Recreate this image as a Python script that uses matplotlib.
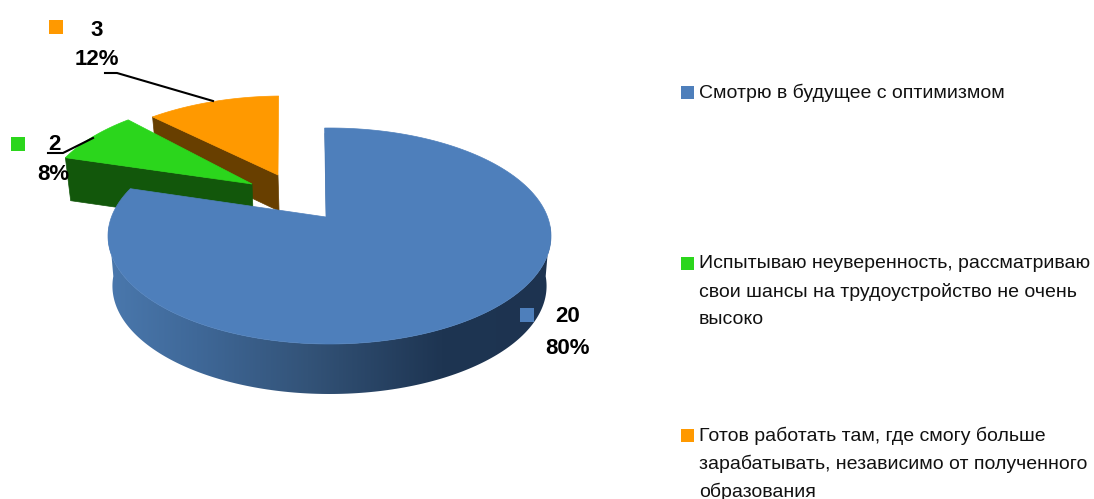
import numpy as np
import matplotlib
matplotlib.use('Agg')
import matplotlib.pyplot as plt
from matplotlib.colors import LinearSegmentedColormap
from matplotlib.patches import Polygon, Rectangle

plt.rcParams['font.family'] = ['Liberation Sans Narrow', 'Liberation Sans', 'DejaVu Sans']

counts = [20, 2, 3]
percents = [80, 8, 12]
legend_labels = [
    "Смотрю в будущее с оптимизмом",
    "Испытываю неуверенность, рассматриваю\nсвои шансы на трудоустройство не очень\nвысоко",
    "Готов работать там, где смогу больше\nзарабатывать, независимо от полученного\nобразования",
]
top_colors = ['#4e7fbb', '#2bd61c', '#ff9900']
side_colors = ['#1d3350', '#12570b', '#683f00']

# pie geometry, in pixels of the picture
CX, CY, RX, RY = 329.5, 236, 221.5, 108
TILT = 0.176
START = -1.5
SQ_APEX = (326, 217)
arc_shift = [(0, 0), (-65, -31), (-46, -32)]
apex_shift = [(0, 0), (-74, -33), (-48, -42)]
arc_trim = [0, 0, 2]
depth = [50, 43, 36]
BOTTOM_SCALE = 0.98

def rim_point(theta):
    t = np.radians(theta)
    u, v = np.sin(t), np.cos(t)
    d = 1 + TILT * v
    return CX + RX * u * np.sqrt(1 - TILT ** 2) / d, CY - RY * (v + TILT) / d

def lower(x, y, dep):
    return CX + (x - CX) * BOTTOM_SCALE, y + dep

fig = plt.figure(figsize=(10.94, 4.99), dpi=100)
ax = fig.add_axes([0, 0, 1, 1])

edges = START + np.cumsum([0] + counts) / sum(counts) * 360

def draw_slice(i, zorder):
    ang = np.linspace(edges[i] + arc_trim[i], edges[i + 1], 200)
    xs, ys = rim_point(ang)
    xs, ys = xs + arc_shift[i][0], ys + arc_shift[i][1]
    ax_, ay_ = SQ_APEX[0] + apex_shift[i][0], SQ_APEX[1] + apex_shift[i][1]
    if i > 0:
        # the radial wall that faces the viewer
        bx, by = lower(xs[0], ys[0], depth[i])
        abx, aby = lower(ax_, ay_, depth[i])
        ax.add_patch(Polygon([(xs[0], ys[0]), (ax_, ay_), (abx, aby), (bx, by)], closed=True,
                             fc=side_colors[i], ec=side_colors[i], lw=0.5, zorder=zorder))
    ax.add_patch(Polygon(np.column_stack([np.r_[xs, ax_], np.r_[ys, ay_]]), closed=True,
                         fc=top_colors[i], ec=top_colors[i], lw=0.5, zorder=zorder + 1))

draw_slice(2, 2)
draw_slice(1, 4)

# gradient on the front of the big slice, clipped to the rim outline
rim_cmap = LinearSegmentedColormap.from_list(
    'rim', [(0, '#4a78ad'), (0.2, '#3f6898'), (0.45, '#335378'), (0.75, '#1e3552'), (1, '#1d3350')])
ang = np.arange(95, 266, 1.0)
x_up, y_up = rim_point(ang)
x_low, y_low = lower(x_up, y_up, depth[0])
rim = Polygon(np.column_stack([np.r_[x_up, x_low[::-1]], np.r_[y_up, y_low[::-1]]]), closed=True,
              fc='none', ec='none', zorder=6)
ax.add_patch(rim)
grad = ax.imshow(np.linspace(0, 1, 256).reshape(1, -1), cmap=rim_cmap, aspect='auto',
                 extent=(108, 552, 400, 200), zorder=6, interpolation='bilinear')
grad.set_clip_path(rim)
draw_slice(0, 7)

# thin dark edge of the big slice at 12 o'clock
sx, sy = rim_point(edges[0])
ax.plot([sx + 0.8, SQ_APEX[0] + 0.8], [sy + 6, SQ_APEX[1]], color='#1d3350', lw=1.1, zorder=7)

# leader lines
ax.plot([105, 117, 213], [73, 73, 101], color='black', lw=1.5, zorder=10)
ax.plot([48, 63, 93], [153, 153, 138], color='black', lw=1.5, zorder=10)

# data labels with their keys
label_xy = [(568, 317, 348), (54, 145, 175), (97, 30, 59)]
key_xy = [(520, 308), (11, 137), (49, 20)]
for i in range(3):
    lx, y1, y2 = label_xy[i]
    ax.text(lx, y1, str(counts[i]), ha='center', va='center', fontsize=16, fontweight='bold', zorder=12)
    ax.text(lx if i != 1 else lx - 1, y2, f"{percents[i]}%", ha='center', va='center',
            fontsize=16, fontweight='bold', zorder=12)
    ax.add_patch(Rectangle(key_xy[i], 14, 14, fc=top_colors[i], ec='none', zorder=11))

# legend
legend_y = [86, 257, 429]
for i in range(3):
    ax.add_patch(Rectangle((681, legend_y[i]), 13, 13, fc=top_colors[i], ec='none'))
    lines = legend_labels[i].split("\n")
    for n, line in enumerate(lines):
        ax.text(699, legend_y[i] + 7 + n * 27.8, line, ha='left', va='center', fontsize=14, color='#111111')

ax.set_xlim(0, 1094)
ax.set_ylim(499, 0)
ax.axis('off')

fig.savefig('out.png', dpi=100)
